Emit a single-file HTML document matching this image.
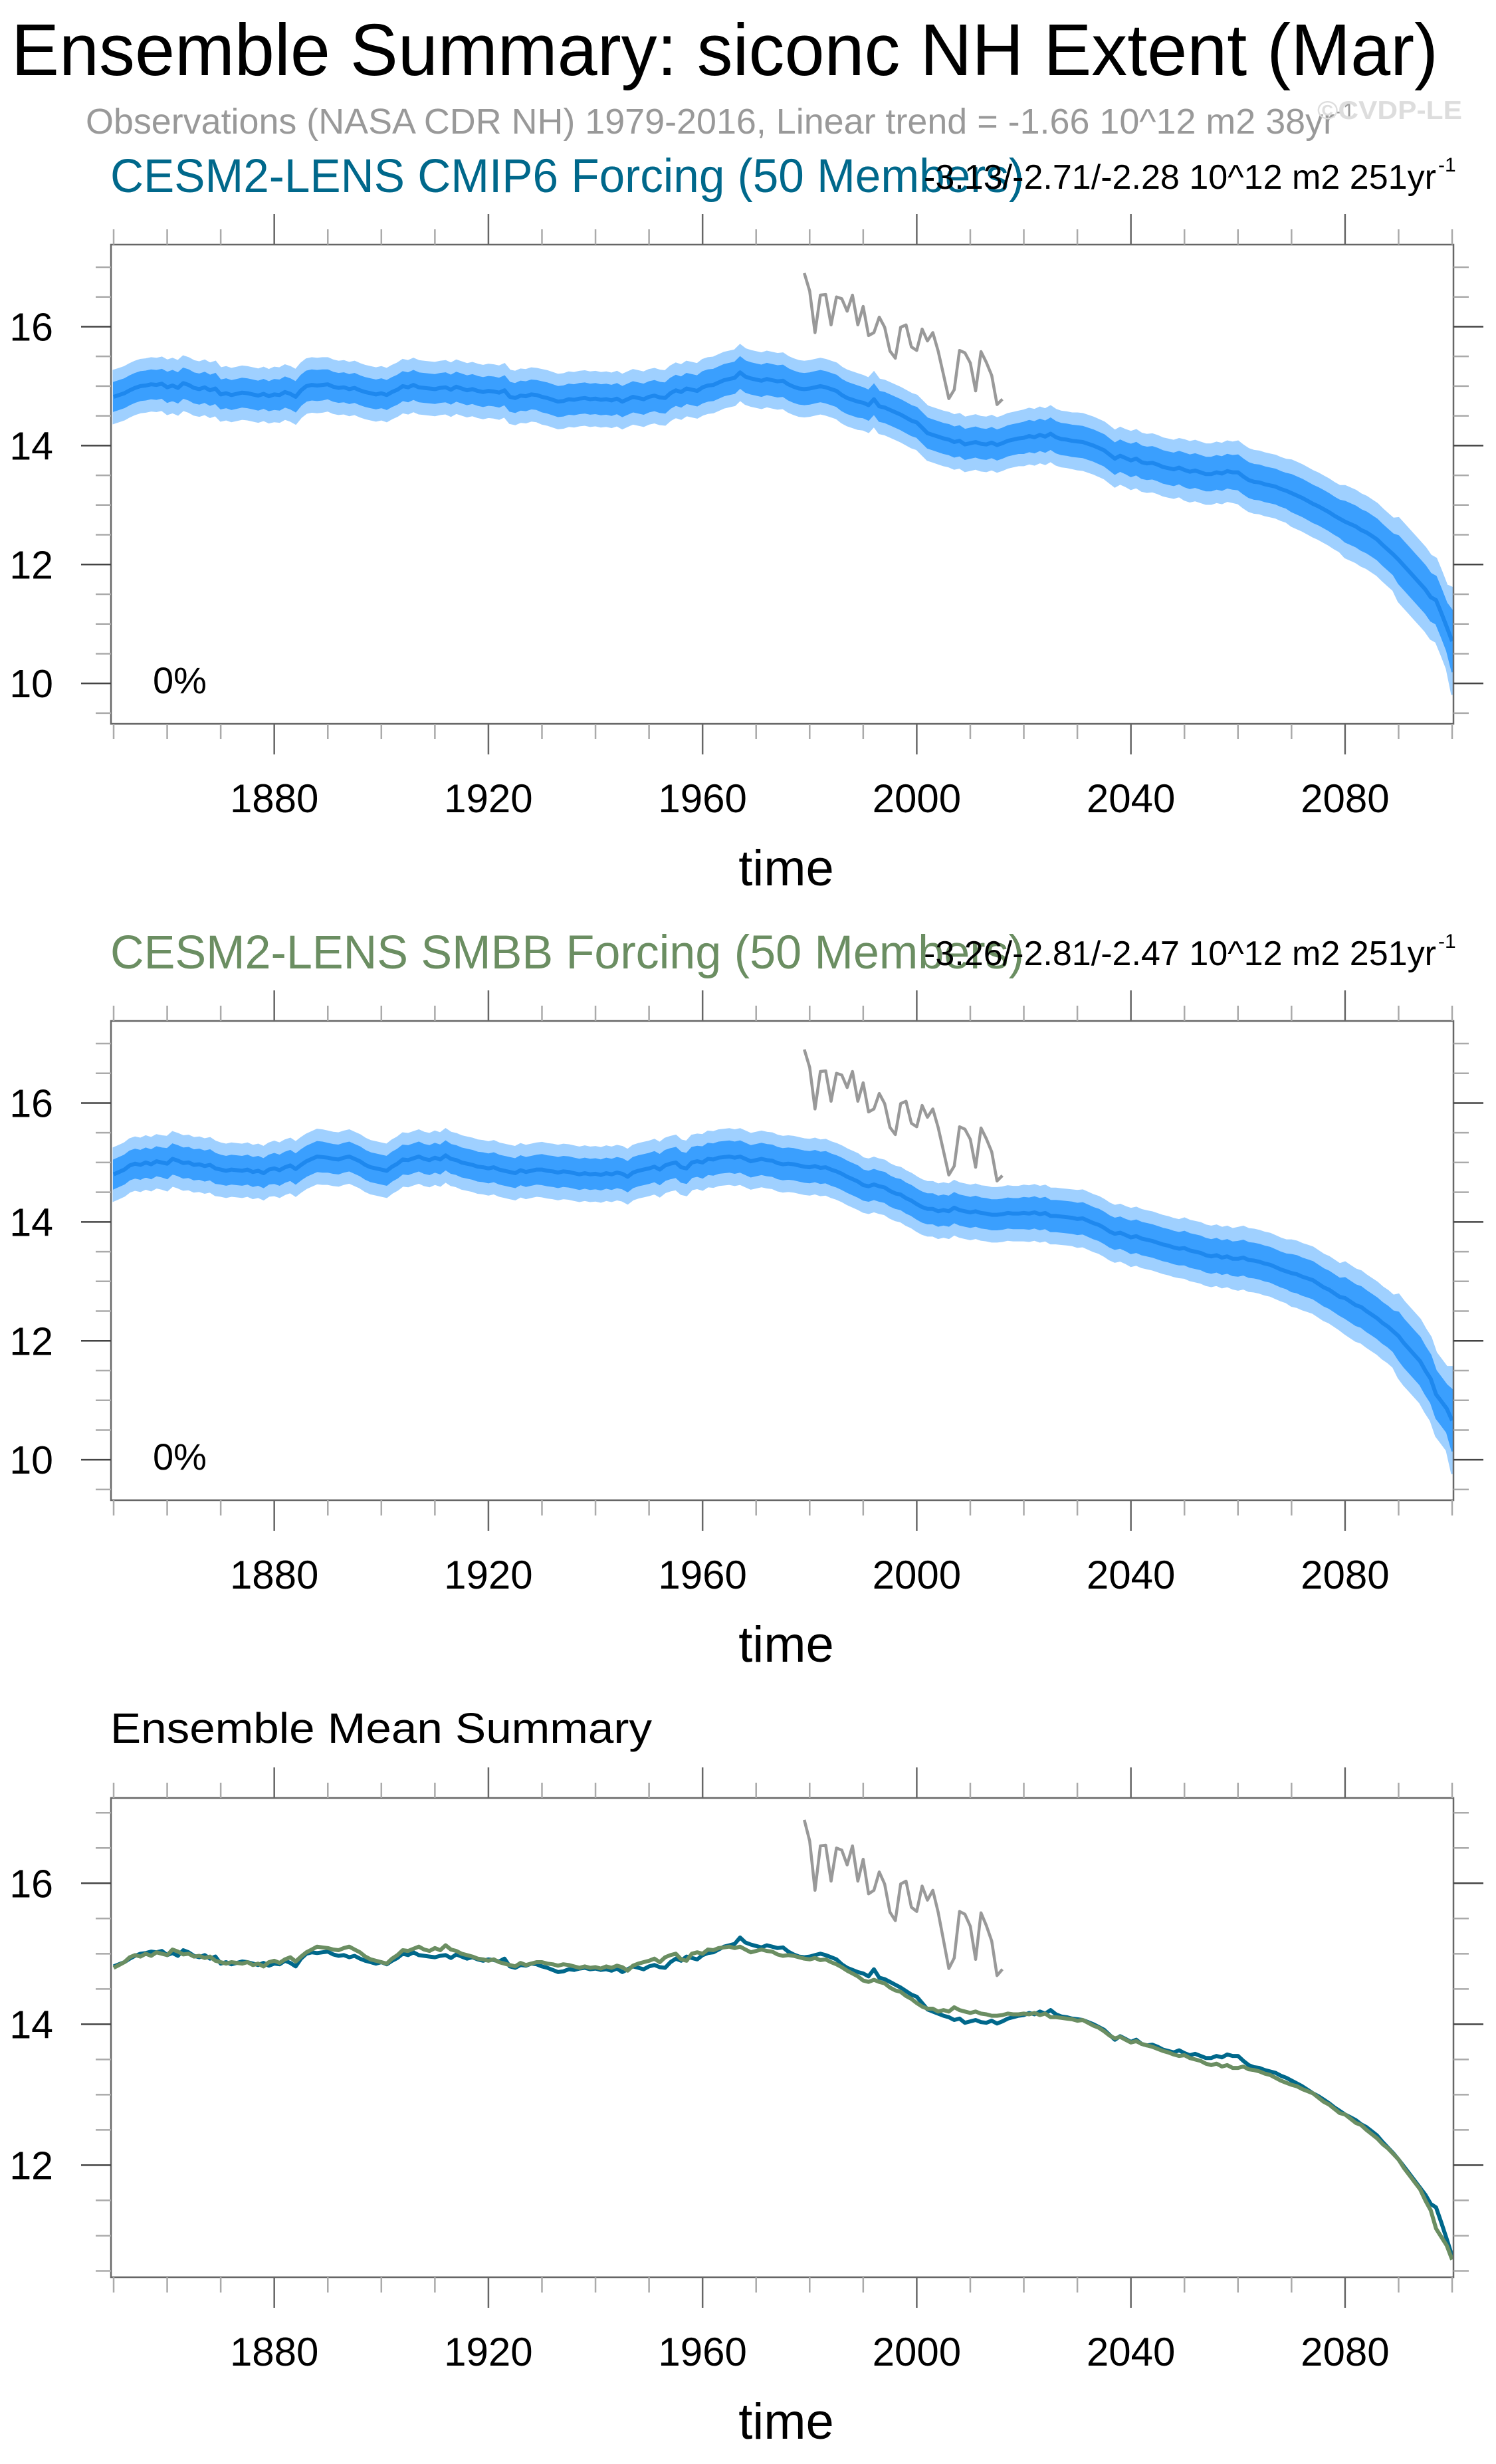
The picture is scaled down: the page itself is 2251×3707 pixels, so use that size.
<!DOCTYPE html>
<html><head><meta charset="utf-8"><title>Ensemble Summary: siconc NH Extent (Mar)</title>
<style>
html,body{margin:0;padding:0;background:#fff;}
svg{display:block;font-family:"Liberation Sans",Arial,sans-serif;}
</style></head>
<body>
<svg id="chart" xmlns="http://www.w3.org/2000/svg" width="2251" height="3707" viewBox="0 0 2251 3707">
<rect width="2251" height="3707" fill="#fff"/>
<text x="17" y="113" font-size="110" fill="#000" textLength="2147" lengthAdjust="spacingAndGlyphs">Ensemble Summary: siconc NH Extent (Mar)</text>
<text x="129" y="201" font-size="54" fill="#999" textLength="1880" lengthAdjust="spacingAndGlyphs">Observations (NASA CDR NH) 1979-2016, Linear trend = -1.66 10^12 m2 38yr</text>
<text x="2010" y="178" font-size="32" fill="#999">-1</text>
<text x="1982" y="179" font-size="39" font-weight="bold" fill="#dddddd" textLength="218" lengthAdjust="spacingAndGlyphs">©CVDP-LE</text>
<g id="panels"></g>
</svg>
<script>
// ---- data ----
const years = [];
for (let y = 1850; y <= 2100; y++) years.push(y);
const cmip6Mean = [
14.82,14.85,14.88,14.93,14.97,15.00,15.01,15.03,15.02,15.04,
14.98,15.01,14.97,15.05,15.02,14.97,14.95,14.98,14.93,14.96,
14.86,14.88,14.85,14.87,14.89,14.88,14.86,14.84,14.87,14.83,
14.86,14.85,14.90,14.87,14.82,14.93,15.00,15.02,15.01,15.02,
15.03,14.99,14.97,14.98,14.95,14.97,14.93,14.90,14.88,14.86,
14.88,14.85,14.90,14.94,15.00,14.98,15.02,14.98,14.97,14.96,
14.95,14.97,14.98,14.94,14.99,14.96,14.93,14.95,14.92,14.90,
14.92,14.91,14.89,14.93,14.82,14.80,14.84,14.83,14.86,14.85,
14.82,14.80,14.77,14.74,14.75,14.78,14.77,14.79,14.80,14.78,
14.79,14.77,14.78,14.76,14.79,14.74,14.78,14.82,14.80,14.78,
14.82,14.84,14.81,14.80,14.88,14.93,14.90,14.96,14.94,14.92,
14.98,15.01,15.02,15.06,15.10,15.12,15.14,15.23,15.16,15.13,
15.11,15.09,15.12,15.10,15.08,15.09,15.03,14.99,14.96,14.95,
14.96,14.98,15.00,14.98,14.95,14.92,14.85,14.80,14.77,14.74,
14.72,14.68,14.78,14.66,14.64,14.60,14.56,14.52,14.47,14.42,
14.39,14.30,14.21,14.18,14.15,14.12,14.10,14.06,14.08,14.02,
14.04,14.06,14.03,14.02,14.05,14.01,14.04,14.08,14.10,14.12,
14.13,14.16,14.14,14.18,14.15,14.20,14.14,14.11,14.10,14.08,
14.07,14.06,14.03,14.00,13.96,13.92,13.85,13.78,13.83,13.79,
13.75,13.78,13.72,13.70,13.71,13.68,13.64,13.62,13.60,13.63,
13.59,13.56,13.58,13.55,13.52,13.52,13.55,13.53,13.57,13.55,
13.55,13.48,13.42,13.39,13.38,13.35,13.33,13.31,13.27,13.24,
13.20,13.16,13.12,13.07,13.02,12.98,12.93,12.88,12.82,12.77,
12.72,12.68,12.64,12.58,12.54,12.48,12.42,12.33,12.25,12.17,
12.08,11.98,11.88,11.78,11.68,11.58,11.45,11.40,11.18,10.95,
10.71];
const smbbMean = [
14.80,14.84,14.88,14.95,14.98,14.96,15.00,14.97,15.02,15.00,
14.98,15.06,15.03,14.99,15.00,14.96,14.97,14.94,14.96,14.90,
14.88,14.86,14.88,14.87,14.86,14.88,14.84,14.86,14.82,14.88,
14.90,14.87,14.92,14.95,14.89,14.96,15.02,15.06,15.10,15.09,
15.08,15.06,15.05,15.08,15.10,15.06,15.02,14.96,14.92,14.90,
14.88,14.86,14.93,14.98,15.05,15.04,15.07,15.10,15.06,15.04,
15.08,15.05,15.12,15.06,15.04,15.00,14.98,14.96,14.93,14.92,
14.90,14.92,14.88,14.86,14.84,14.82,14.87,14.84,14.86,14.88,
14.88,14.86,14.85,14.83,14.85,14.84,14.82,14.80,14.82,14.80,
14.81,14.79,14.82,14.80,14.83,14.81,14.76,14.83,14.86,14.88,
14.90,14.93,14.88,14.95,14.98,15.00,14.92,14.90,15.00,15.02,
15.00,15.06,15.05,15.08,15.09,15.10,15.08,15.10,15.06,15.02,
15.04,15.06,15.04,15.03,14.99,14.97,14.98,14.97,14.95,14.93,
14.92,14.94,14.91,14.92,14.88,14.85,14.81,14.76,14.72,14.68,
14.62,14.60,14.63,14.60,14.58,14.52,14.48,14.46,14.40,14.36,
14.30,14.25,14.22,14.22,14.18,14.20,14.18,14.24,14.20,14.18,
14.16,14.18,14.15,14.14,14.12,14.12,14.13,14.15,14.14,14.14,
14.15,14.14,14.16,14.13,14.15,14.10,14.10,14.09,14.08,14.07,
14.05,14.06,14.02,13.98,13.95,13.90,13.84,13.80,13.82,13.78,
13.74,13.76,13.72,13.70,13.68,13.65,13.62,13.60,13.57,13.55,
13.56,13.52,13.50,13.48,13.44,13.42,13.44,13.40,13.42,13.38,
13.38,13.40,13.36,13.35,13.33,13.30,13.28,13.24,13.20,13.17,
13.14,13.12,13.08,13.05,13.02,12.96,12.90,12.86,12.80,12.74,
12.72,12.66,12.60,12.57,12.50,12.44,12.38,12.30,12.24,12.16,
12.08,11.96,11.86,11.76,11.66,11.50,11.36,11.10,10.98,10.86,
10.66];
// decadal half-widths (1850s ... 2100) of ensemble spread
const outerSpread = [0.44,0.45,0.44,0.45,0.44,0.44,0.44,0.44,0.45,0.45,0.45,0.46,0.46,0.46,0.45,0.45,0.45,0.46,0.47,0.48,0.50,0.52,0.55,0.60,0.70,0.90];
const innerSpread = [0.24,0.25,0.24,0.25,0.24,0.24,0.24,0.24,0.25,0.25,0.25,0.26,0.26,0.26,0.25,0.25,0.25,0.26,0.26,0.27,0.28,0.29,0.31,0.34,0.40,0.52];
const obsYears = [];
for (let y = 1979; y <= 2016; y++) obsYears.push(y);
const obsValues = [16.90,16.60,15.90,16.53,16.54,16.03,16.50,16.47,16.26,16.53,16.03,16.34,15.85,15.90,16.16,15.99,15.59,15.47,15.99,16.03,15.66,15.60,15.96,15.76,15.90,15.59,15.19,14.79,14.94,15.60,15.56,15.39,14.92,15.58,15.40,15.18,14.69,14.78];
const xTicksMajor = [1880,1920,1960,2000,2040,2080];
const yTicksTop = [10,12,14,16];
const yTicksMean = [12,14,16];

// ---- drawing ----
const NS = 'http://www.w3.org/2000/svg';
const root = document.getElementById('panels');
function el(tag, attrs, parent, txt) {
  const e = document.createElementNS(NS, tag);
  for (const k in attrs) e.setAttribute(k, attrs[k]);
  if (txt !== undefined) e.textContent = txt;
  (parent || root).appendChild(e);
  return e;
}
const X0 = 167, X1 = 2187;
function xScale(yr) { return 171 + (yr - 1850) * 8.056; }

function drawAxes(g, top, bot, ymin, ymax, yTicks, yScale) {
  const box = el('rect', {x: X0, y: top, width: X1 - X0, height: bot - top, fill: 'none', stroke: '#666', 'stroke-width': 2.5}, g);
  
  
  for (let yr = 1850; yr <= 2100; yr += 10) {
    const x = xScale(yr);
    const major = xTicksMajor.indexOf(yr) >= 0;
    const L = major ? 46 : 23;
    el('line', {x1: x, x2: x, y1: top, y2: top - L, stroke: major ? '#666' : '#aaa', 'stroke-width': 2.5}, g);
    el('line', {x1: x, x2: x, y1: bot, y2: bot + L, stroke: major ? '#666' : '#aaa', 'stroke-width': 2.5}, g);
    if (major) {
      const t = el('text', {x: x, y: bot + 133, 'font-size': 60, 'text-anchor': 'middle', fill: '#000'}, g, String(yr));
      
      
    }
  }
  for (let v = Math.ceil(ymin * 2) / 2; v <= ymax; v += 0.5) {
    const y = yScale(v);
    const major = yTicks.indexOf(v) >= 0;
    const L = major ? 45 : 23;
    el('line', {x1: X0, x2: X0 - L, y1: y, y2: y, stroke: major ? '#444' : '#aaa', 'stroke-width': 2.5}, g);
    el('line', {x1: X1, x2: X1 + L, y1: y, y2: y, stroke: major ? '#444' : '#aaa', 'stroke-width': 2.5}, g);
    if (major) {
      const t = el('text', {x: 80, y: y + 21, 'font-size': 59, 'text-anchor': 'end', fill: '#000'}, g, String(v));
      
      
    }
  }
  const xt = el('text', {x: 1183, y: bot + 243, 'font-size': 76, 'text-anchor': 'middle', fill: '#000'}, g, 'time');
  
  
}
function linePath(xs, vs, yScale) {
  return xs.map((yr, i) => (i ? 'L' : 'M') + xScale(yr).toFixed(1) + ',' + yScale(vs[i]).toFixed(1)).join(' ');
}
function bandPath(mean, spread, yScale) {
  let up = [], dn = [];
  years.forEach((yr, i) => {
    const s = spread[Math.floor((yr - 1850) / 10)];
    up.push(xScale(yr).toFixed(1) + ',' + yScale(mean[i] + s).toFixed(1));
    dn.push(xScale(yr).toFixed(1) + ',' + yScale(mean[i] - s).toFixed(1));
  });
  return 'M' + up.join(' L') + ' L' + dn.reverse().join(' L') + ' Z';
}
function obsLine(g, yScale) {
  const p = el('path', {d: linePath(obsYears, obsValues, yScale), fill: 'none', stroke: '#999', 'stroke-width': 4.5, 'stroke-linejoin': 'round'}, g);
  
  
}

function ensemblePanel(name, top, title, color, trend, mean) {
  const bot = top + 721, ymin = 9.32, ymax = 17.38;
  const yScale = v => bot - (v - ymin) / (ymax - ymin) * (bot - top);
  const g = el('g', {});
  
  
  const t = el('text', {x: 166, y: top - 79, 'font-size': 71, fill: color, textLength: 1375, lengthAdjust: 'spacingAndGlyphs'}, g, title);
  
  
  const tr = el('text', {x: 1390, y: top - 84, 'font-size': 52, fill: '#000', textLength: 771, lengthAdjust: 'spacingAndGlyphs'}, g, trend);
  
  
  const sup = el('text', {x: 2164, y: top - 110, 'font-size': 30, fill: '#000'}, g, '-1');
  
  
  const ob = el('path', {d: bandPath(mean, outerSpread, yScale), fill: '#9fd0ff', stroke: '#9fd0ff', 'stroke-width': 3}, g);
  
  
  const ib = el('path', {d: bandPath(mean, innerSpread, yScale), fill: '#3a9ffe', stroke: '#3a9ffe', 'stroke-width': 2}, g);
  
  
  const ml = el('path', {d: linePath(years, mean, yScale), fill: 'none', stroke: '#1e88ee', 'stroke-width': 6, 'stroke-linejoin': 'round'}, g);
  
  
  obsLine(g, yScale);
  const pc = el('text', {x: 230, y: bot - 46, 'font-size': 56, fill: '#000'}, g, '0%');
  
  
  drawAxes(g, top, bot, ymin, ymax, yTicksTop, yScale);
}

ensemblePanel('cmip6-panel', 368, 'CESM2-LENS CMIP6 Forcing (50 Members)', '#00688b', '-3.13/-2.71/-2.28 10^12 m2 251yr', cmip6Mean);
ensemblePanel('smbb-panel', 1536, 'CESM2-LENS SMBB Forcing (50 Members)', '#6b8e62', '-3.26/-2.81/-2.47 10^12 m2 251yr', smbbMean);

(function meanPanel() {
  const top = 2705, bot = 3426, ymin = 10.41, ymax = 17.21;
  const yScale = v => bot - (v - ymin) / (ymax - ymin) * (bot - top);
  const g = el('g', {});
  
  
  const t = el('text', {x: 166, y: 2622, 'font-size': 64, fill: '#000', textLength: 815, lengthAdjust: 'spacingAndGlyphs'}, g, 'Ensemble Mean Summary');
  
  
  const a = el('path', {d: linePath(years, cmip6Mean, yScale), fill: 'none', stroke: '#00688b', 'stroke-width': 6, 'stroke-linejoin': 'round'}, g);
  
  
  const b = el('path', {d: linePath(years, smbbMean, yScale), fill: 'none', stroke: '#6b8e62', 'stroke-width': 6, 'stroke-linejoin': 'round'}, g);
  
  
  obsLine(g, yScale);
  drawAxes(g, top, bot, ymin, ymax, yTicksMean, yScale);
})();
</script>
</body></html>
